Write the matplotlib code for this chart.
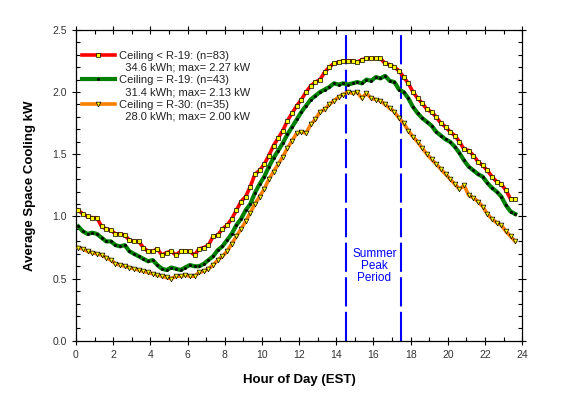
import numpy as np
import matplotlib.pyplot as plt
from matplotlib.lines import Line2D
from matplotlib.ticker import MultipleLocator, FormatStrFormatter

plt.rcParams['font.family'] = ['Liberation Sans', 'DejaVu Sans']

# quarter-hour midpoints
hours = np.arange(95) * 0.25 + 0.125

low_r = [1.05, 1.02, 1.00, 0.99, 0.99, 0.92, 0.90, 0.89, 0.86, 0.86, 0.85, 0.81,
         0.80, 0.80, 0.75, 0.72, 0.72, 0.74, 0.69, 0.71, 0.72, 0.69, 0.72, 0.72,
         0.72, 0.69, 0.74, 0.75, 0.77, 0.84, 0.85, 0.90, 0.93, 0.98, 1.05, 1.12,
         1.16, 1.24, 1.34, 1.37, 1.42, 1.49, 1.57, 1.63, 1.69, 1.77, 1.83, 1.89,
         1.94, 2.00, 2.05, 2.08, 2.10, 2.16, 2.20, 2.23, 2.24, 2.25, 2.25, 2.25,
         2.24, 2.26, 2.27, 2.27, 2.27, 2.27, 2.23, 2.22, 2.20, 2.17, 2.12, 2.07,
         2.00, 1.95, 1.91, 1.86, 1.84, 1.80, 1.75, 1.72, 1.68, 1.65, 1.60, 1.54,
         1.53, 1.49, 1.44, 1.41, 1.37, 1.32, 1.28, 1.26, 1.21, 1.14, 1.14]

r19 = [0.92, 0.88, 0.86, 0.87, 0.86, 0.83, 0.80, 0.80, 0.77, 0.76, 0.77, 0.72,
       0.70, 0.68, 0.66, 0.64, 0.65, 0.61, 0.58, 0.57, 0.59, 0.58, 0.57, 0.59,
       0.61, 0.60, 0.60, 0.62, 0.65, 0.68, 0.73, 0.76, 0.81, 0.86, 0.93, 0.98,
       1.05, 1.10, 1.19, 1.26, 1.32, 1.40, 1.47, 1.53, 1.59, 1.66, 1.72, 1.78,
       1.84, 1.89, 1.94, 1.97, 2.00, 2.02, 2.04, 2.07, 2.06, 2.07, 2.06, 2.07,
       2.08, 2.07, 2.10, 2.09, 2.12, 2.11, 2.13, 2.09, 2.08, 2.02, 2.00, 1.95,
       1.88, 1.83, 1.79, 1.76, 1.73, 1.68, 1.65, 1.62, 1.60, 1.56, 1.51, 1.45,
       1.40, 1.37, 1.34, 1.32, 1.27, 1.23, 1.20, 1.16, 1.09, 1.04, 1.02]

r30 = [0.75, 0.74, 0.72, 0.71, 0.70, 0.69, 0.67, 0.65, 0.62, 0.61, 0.60, 0.59,
       0.58, 0.57, 0.56, 0.55, 0.54, 0.53, 0.52, 0.51, 0.50, 0.52, 0.52, 0.53,
       0.52, 0.52, 0.55, 0.56, 0.58, 0.61, 0.65, 0.68, 0.72, 0.78, 0.84, 0.90,
       0.96, 1.03, 1.10, 1.16, 1.22, 1.30, 1.36, 1.42, 1.48, 1.55, 1.61, 1.67,
       1.68, 1.67, 1.74, 1.78, 1.84, 1.86, 1.90, 1.93, 1.96, 1.98, 2.00, 1.99,
       2.00, 1.95, 1.99, 1.95, 1.94, 1.93, 1.90, 1.87, 1.84, 1.79, 1.75, 1.69,
       1.64, 1.60, 1.55, 1.50, 1.46, 1.42, 1.38, 1.34, 1.30, 1.26, 1.22, 1.25,
       1.17, 1.15, 1.12, 1.08, 1.02, 0.98, 0.95, 0.93, 0.88, 0.84, 0.80]

labels = ['Ceiling < R-19: (n=83)', 'Ceiling = R-19: (n=43)', 'Ceiling = R-30: (n=35)']
notes = ['34.6 kWh; max= 2.27 kW', '31.4 kWh; max= 2.13 kW', '28.0 kWh; max= 2.00 kW']
peak_start, peak_end = 14.5, 17.5

red_style = dict(color='red', lw=2.6, marker='s', ms=3.3, mfc='yellow',
                 mec='black', mew=0.5)
green_style = dict(color='#008000', lw=3, marker='o', ms=1.1, mfc='black',
                   mec='black')
orange_style = dict(color='#ff8000', lw=2.6, marker='v', ms=3.4, mfc='yellow',
                    mec='black', mew=0.5)

fig = plt.figure(figsize=(5.67, 4.03), dpi=100)
ax = fig.add_axes([0.134, 0.154, 0.787, 0.772])

ax.plot(hours, low_r, zorder=3, **red_style)
ax.plot(hours, r19, zorder=2, **green_style)
ax.plot(hours, r30, zorder=3, **orange_style)

for xv in (peak_start, peak_end):
    ax.axvline(xv, color='#0000ff', lw=1.5, dashes=(14, 2.6), zorder=1)
ax.text(16.05, 0.6, 'Summer\nPeak\nPeriod', color='#0000ff', ha='center',
        va='center', fontsize=8.5, linespacing=1.0)

ax.set_xlim(0, 24)
ax.set_ylim(0, 2.5)
ax.xaxis.set_major_locator(MultipleLocator(2))
ax.xaxis.set_minor_locator(MultipleLocator(1))
ax.yaxis.set_major_locator(MultipleLocator(0.5))
ax.yaxis.set_minor_locator(MultipleLocator(0.1))
ax.yaxis.set_major_formatter(FormatStrFormatter('%.1f'))
ax.tick_params(which='major', direction='inout', length=6, width=0.8,
               top=True, right=True, labelsize=7.5, labelcolor='#333333')
ax.tick_params(which='minor', direction='in', length=3, width=0.8,
               top=True, right=True)
for s in ax.spines.values():
    s.set_linewidth(0.9)

ax.set_xlabel('Hour of Day (EST)', fontsize=9.5, fontweight='bold', labelpad=10)
ax.set_ylabel('Average Space Cooling kW', fontsize=9.5, fontweight='bold', labelpad=12)

blank = Line2D([], [], alpha=0)
handles = [Line2D([], [], **red_style), blank,
           Line2D([], [], **green_style), blank,
           Line2D([], [], **orange_style), blank]
leg_labels = [labels[0], '  ' + notes[0], labels[1], '  ' + notes[1],
              labels[2], '  ' + notes[2]]
ax.legend(handles, leg_labels, loc='upper left', bbox_to_anchor=(-0.01, 0.965),
          frameon=False, fontsize=8, handlelength=3.0, handletextpad=0.4,
          labelspacing=0.2, labelcolor='#222222')

fig.savefig('out.png', dpi=100)
